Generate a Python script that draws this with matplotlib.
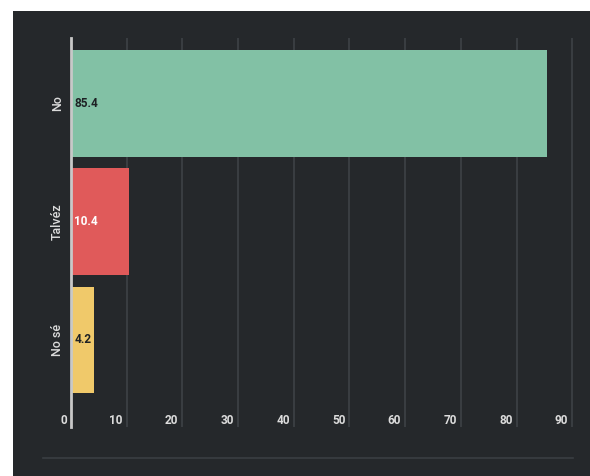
import matplotlib
matplotlib.use("Agg")
import matplotlib.pyplot as plt
from matplotlib.patches import Rectangle
from matplotlib.lines import Line2D
from matplotlib.transforms import ScaledTranslation

plt.rcParams['font.family'] = ['Roboto', 'DejaVu Sans']

categories = ["No", "Talvéz", "No sé"]
values = [85.4, 10.4, 4.2]
bar_colors = ["#82c1a5", "#e05a5a", "#f0c96a"]
label_colors = ["#1e2124", "#ffffff", "#1e2124"]
x_ticks = [0, 10, 20, 30, 40, 50, 60, 70, 80, 90]

BG = "#25282b"
W, H = 590, 476
fig = plt.figure(figsize=(W / 100, H / 100), dpi=100, facecolor="white")

# dark card behind the chart
fig.patches.append(Rectangle((13 / W, 0), 1 - 13 / W, 1 - 11 / H,
                             transform=fig.transFigure, facecolor=BG,
                             edgecolor="none", zorder=-10))

ax = fig.add_axes([71 / W, (H - 427) / H, (575 - 71) / W, (427 - 38) / H])
ax.set_facecolor(BG)

ypos = list(range(len(categories)))
ax.barh(ypos, values, height=0.9, color=bar_colors, zorder=3)

for y, v, c in zip(ypos, values, label_colors):
    ax.text(0.6, y, f"{v}", color=c, fontsize=8.5, fontweight="bold",
            va="center", ha="left", zorder=4)

ax.set_xlim(0, 90.5)
ax.set_ylim(2.74, -0.555)

ax.set_yticks(ypos)
ax.set_yticklabels(categories, rotation=90, va="center", color="#dcdcdc",
                   fontsize=9, fontweight="medium")
ax.tick_params(axis="y", length=0, pad=5)

ax.set_xticks(x_ticks)
ax.set_xticklabels([str(t) for t in x_ticks], color="#dcdcdc", fontsize=8.5,
                   fontweight="bold", ha="right")
ax.tick_params(axis="x", length=0, pad=-9)
shift = ScaledTranslation(-4 / 100, 0, fig.dpi_scale_trans)
for lbl in ax.get_xticklabels():
    lbl.set_transform(lbl.get_transform() + shift)

ax.grid(axis="x", color="#3e4246", linewidth=1.2, zorder=0)
ax.grid(axis="y", visible=False)

for s in ["top", "right", "bottom"]:
    ax.spines[s].set_visible(False)
ax.spines["left"].set_color("#c8c8c8")
ax.spines["left"].set_linewidth(2)
ax.spines["left"].set_zorder(5)

# thin rule along the bottom of the card
fig.add_artist(Line2D([43 / W, 573 / W], [(H - 458) / H, (H - 458) / H],
                      transform=fig.transFigure, color="#3a3e42", linewidth=1.2))

fig.savefig("out.png", dpi=100, facecolor="white")
